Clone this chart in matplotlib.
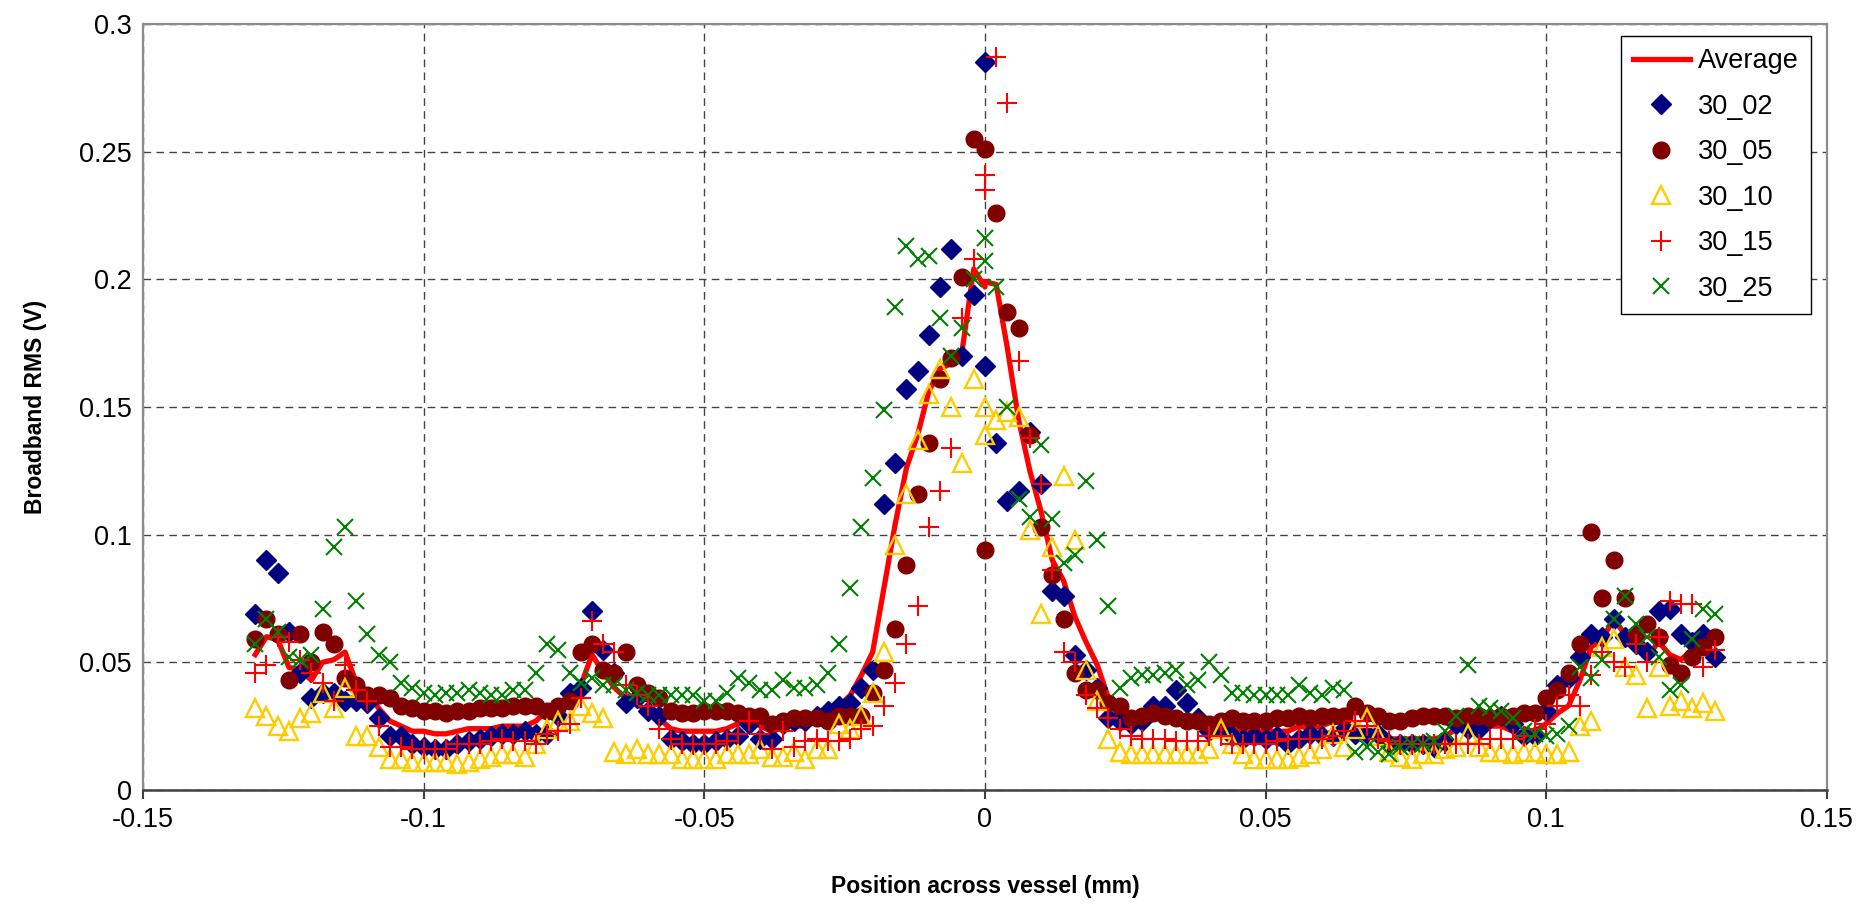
import matplotlib
matplotlib.use('Agg')
import matplotlib.pyplot as plt

plt.rcParams['font.family'] = ['Liberation Sans', 'DejaVu Sans']

# positions across the vessel (mm), left scan and right scan both end at 0
x_left = [-0.130, -0.128, -0.126, -0.124, -0.122, -0.120, -0.118, -0.116, -0.114, -0.112, -0.110,
          -0.108, -0.106, -0.104, -0.102, -0.100, -0.098, -0.096, -0.094, -0.092, -0.090, -0.088,
          -0.086, -0.084, -0.082, -0.080, -0.078, -0.076, -0.074, -0.072, -0.070, -0.068, -0.066,
          -0.064, -0.062, -0.060, -0.058, -0.056, -0.054, -0.052, -0.050, -0.048, -0.046, -0.044,
          -0.042, -0.040, -0.038, -0.036, -0.034, -0.032, -0.030, -0.028, -0.026, -0.024, -0.022,
          -0.020, -0.018, -0.016, -0.014, -0.012, -0.010, -0.008, -0.006, -0.004, -0.002, 0.000]
x_right = [0.000, 0.002, 0.004, 0.006, 0.008, 0.010, 0.012, 0.014, 0.016, 0.018, 0.020,
           0.022, 0.024, 0.026, 0.028, 0.030, 0.032, 0.034, 0.036, 0.038, 0.040, 0.042,
           0.044, 0.046, 0.048, 0.050, 0.052, 0.054, 0.056, 0.058, 0.060, 0.062, 0.064,
           0.066, 0.068, 0.070, 0.072, 0.074, 0.076, 0.078, 0.080, 0.082, 0.084, 0.086,
           0.088, 0.090, 0.092, 0.094, 0.096, 0.098, 0.100, 0.102, 0.104, 0.106, 0.108,
           0.110, 0.112, 0.114, 0.116, 0.118, 0.120, 0.122, 0.124, 0.126, 0.128, 0.130]

avg_left = [0.053, 0.060, 0.059, 0.048, 0.047, 0.043, 0.050, 0.051, 0.054, 0.042, 0.038,
            0.032, 0.027, 0.025, 0.023, 0.023, 0.022, 0.022, 0.023, 0.024, 0.024, 0.024,
            0.025, 0.025, 0.025, 0.027, 0.031, 0.033, 0.035, 0.041, 0.053, 0.046, 0.040,
            0.036, 0.034, 0.030, 0.028, 0.024, 0.023, 0.023, 0.023, 0.023, 0.024, 0.026,
            0.028, 0.025, 0.023, 0.026, 0.025, 0.025, 0.027, 0.028, 0.033, 0.037, 0.045,
            0.054, 0.079, 0.104, 0.126, 0.139, 0.156, 0.165, 0.167, 0.173, 0.204, 0.197]
avg_right = [0.199, 0.198, 0.173, 0.145, 0.125, 0.109, 0.090, 0.082, 0.068, 0.058, 0.049,
             0.036, 0.028, 0.027, 0.027, 0.028, 0.028, 0.029, 0.027, 0.026, 0.027, 0.028,
             0.025, 0.023, 0.023, 0.023, 0.023, 0.023, 0.025, 0.024, 0.025, 0.027, 0.026,
             0.024, 0.024, 0.021, 0.020, 0.020, 0.020, 0.020, 0.020, 0.021, 0.024, 0.028,
             0.024, 0.025, 0.025, 0.023, 0.022, 0.023, 0.026, 0.030, 0.033, 0.043, 0.056,
             0.059, 0.067, 0.061, 0.057, 0.052, 0.058, 0.053, 0.051, 0.055, 0.054, 0.054]

s02_left = [0.069, 0.090, 0.085, 0.062, 0.046, 0.036, 0.038, 0.038, 0.035, 0.035, 0.034,
            0.028, 0.021, 0.021, 0.018, 0.017, 0.016, 0.016, 0.018, 0.019, 0.020, 0.021,
            0.022, 0.022, 0.023, 0.022, 0.022, 0.029, 0.038, 0.040, 0.070, 0.055, 0.046,
            0.034, 0.036, 0.031, 0.029, 0.020, 0.019, 0.018, 0.018, 0.019, 0.020, 0.021,
            0.026, 0.020, 0.020, 0.026, 0.027, 0.027, 0.029, 0.031, 0.033, 0.034, 0.040,
            0.047, 0.112, 0.128, 0.157, 0.164, 0.178, 0.197, 0.212, 0.170, 0.194, 0.166]
s02_right = [0.285, 0.136, 0.113, 0.117, 0.140, 0.120, 0.078, 0.076, 0.053, 0.047, 0.040,
             0.028, 0.027, 0.026, 0.027, 0.033, 0.033, 0.039, 0.034, 0.028, 0.023, 0.024,
             0.021, 0.020, 0.021, 0.020, 0.021, 0.018, 0.020, 0.022, 0.021, 0.021, 0.024,
             0.022, 0.022, 0.022, 0.018, 0.018, 0.018, 0.018, 0.017, 0.019, 0.026, 0.024,
             0.024, 0.028, 0.029, 0.026, 0.021, 0.021, 0.031, 0.041, 0.044, 0.052, 0.061,
             0.060, 0.067, 0.060, 0.057, 0.054, 0.070, 0.071, 0.061, 0.058, 0.061, 0.052]

s05_left = [0.059, 0.067, 0.061, 0.043, 0.061, 0.050, 0.062, 0.057, 0.044, 0.041, 0.037,
            0.037, 0.036, 0.033, 0.032, 0.031, 0.031, 0.030, 0.031, 0.031, 0.032, 0.032,
            0.032, 0.033, 0.033, 0.033, 0.031, 0.033, 0.035, 0.054, 0.057, 0.047, 0.046,
            0.054, 0.041, 0.038, 0.036, 0.031, 0.030, 0.030, 0.031, 0.031, 0.031, 0.030,
            0.029, 0.029, 0.026, 0.027, 0.028, 0.028, 0.028, 0.027, 0.029, 0.029, 0.029,
            0.038, 0.047, 0.063, 0.088, 0.116, 0.136, 0.161, 0.169, 0.201, 0.255, 0.251]
s05_right = [0.094, 0.226, 0.187, 0.181, 0.139, 0.103, 0.084, 0.067, 0.046, 0.039, 0.039,
             0.034, 0.033, 0.028, 0.029, 0.030, 0.029, 0.028, 0.027, 0.027, 0.026, 0.027,
             0.028, 0.027, 0.027, 0.027, 0.028, 0.028, 0.029, 0.028, 0.029, 0.029, 0.029,
             0.033, 0.030, 0.029, 0.027, 0.027, 0.028, 0.029, 0.029, 0.029, 0.028, 0.029,
             0.029, 0.028, 0.029, 0.029, 0.030, 0.030, 0.036, 0.039, 0.046, 0.057, 0.101,
             0.075, 0.090, 0.075, 0.061, 0.065, 0.060, 0.049, 0.046, 0.052, 0.056, 0.060]

s10_left = [0.032, 0.029, 0.025, 0.023, 0.028, 0.030, 0.038, 0.032, 0.040, 0.021, 0.021,
            0.017, 0.012, 0.012, 0.011, 0.011, 0.011, 0.011, 0.010, 0.011, 0.012, 0.013,
            0.014, 0.014, 0.013, 0.018, 0.024, 0.027, 0.027, 0.033, 0.030, 0.028, 0.015,
            0.014, 0.016, 0.014, 0.014, 0.014, 0.012, 0.012, 0.012, 0.012, 0.014, 0.014,
            0.014, 0.016, 0.013, 0.013, 0.015, 0.012, 0.016, 0.016, 0.026, 0.024, 0.029,
            0.038, 0.054, 0.096, 0.116, 0.137, 0.155, 0.165, 0.150, 0.128, 0.161, 0.150]
s10_right = [0.139, 0.145, 0.148, 0.146, 0.102, 0.069, 0.095, 0.123, 0.098, 0.047, 0.035,
             0.020, 0.015, 0.014, 0.014, 0.014, 0.014, 0.014, 0.014, 0.014, 0.016, 0.024,
             0.018, 0.014, 0.012, 0.012, 0.012, 0.012, 0.013, 0.014, 0.016, 0.022, 0.017,
             0.024, 0.028, 0.021, 0.015, 0.013, 0.012, 0.014, 0.014, 0.016, 0.017, 0.022,
             0.017, 0.015, 0.015, 0.014, 0.015, 0.015, 0.014, 0.014, 0.015, 0.025, 0.027,
             0.056, 0.059, 0.048, 0.045, 0.032, 0.048, 0.033, 0.035, 0.032, 0.034, 0.031]

s15_left = [0.046, 0.049, 0.060, 0.058, 0.051, 0.046, 0.042, 0.035, 0.049, 0.039, 0.035,
            0.025, 0.017, 0.017, 0.016, 0.016, 0.016, 0.016, 0.018, 0.018, 0.018, 0.019,
            0.020, 0.019, 0.019, 0.018, 0.022, 0.023, 0.026, 0.036, 0.066, 0.057, 0.054,
            0.041, 0.037, 0.033, 0.024, 0.020, 0.018, 0.018, 0.018, 0.018, 0.019, 0.022,
            0.027, 0.022, 0.016, 0.023, 0.017, 0.019, 0.020, 0.019, 0.019, 0.020, 0.024,
            0.025, 0.033, 0.042, 0.057, 0.072, 0.103, 0.117, 0.134, 0.185, 0.208, 0.241]
s15_right = [0.235, 0.287, 0.269, 0.168, 0.138, 0.120, 0.086, 0.054, 0.050, 0.037, 0.032,
             0.028, 0.024, 0.021, 0.020, 0.020, 0.020, 0.019, 0.019, 0.019, 0.021, 0.021,
             0.018, 0.018, 0.018, 0.018, 0.019, 0.020, 0.020, 0.020, 0.020, 0.021, 0.023,
             0.027, 0.025, 0.020, 0.019, 0.018, 0.018, 0.018, 0.018, 0.018, 0.018, 0.018,
             0.018, 0.020, 0.020, 0.020, 0.021, 0.024, 0.026, 0.033, 0.037, 0.033, 0.045,
             0.054, 0.050, 0.048, 0.057, 0.050, 0.060, 0.074, 0.073, 0.073, 0.048, 0.055]

s25_left = [0.057, 0.067, 0.062, 0.052, 0.051, 0.053, 0.071, 0.095, 0.103, 0.074, 0.061,
            0.053, 0.050, 0.042, 0.040, 0.038, 0.037, 0.038, 0.038, 0.039, 0.038, 0.037,
            0.037, 0.039, 0.039, 0.046, 0.057, 0.055, 0.046, 0.042, 0.044, 0.041, 0.041,
            0.039, 0.038, 0.037, 0.037, 0.037, 0.037, 0.037, 0.035, 0.035, 0.038, 0.044,
            0.042, 0.039, 0.039, 0.043, 0.040, 0.040, 0.041, 0.046, 0.057, 0.079, 0.103,
            0.122, 0.149, 0.189, 0.213, 0.208, 0.209, 0.185, 0.170, 0.181, 0.200, 0.216]
s25_right = [0.207, 0.197, 0.150, 0.114, 0.107, 0.135, 0.106, 0.089, 0.092, 0.121, 0.098,
             0.072, 0.040, 0.044, 0.045, 0.045, 0.046, 0.047, 0.041, 0.043, 0.050, 0.045,
             0.038, 0.038, 0.037, 0.037, 0.037, 0.037, 0.041, 0.038, 0.037, 0.040, 0.039,
             0.015, 0.017, 0.015, 0.014, 0.017, 0.018, 0.018, 0.019, 0.023, 0.029, 0.049,
             0.033, 0.032, 0.031, 0.028, 0.023, 0.022, 0.021, 0.022, 0.025, 0.048, 0.044,
             0.051, 0.067, 0.076, 0.065, 0.060, 0.052, 0.039, 0.041, 0.059, 0.071, 0.069]

x_ticks = [-0.15, -0.1, -0.05, 0, 0.05, 0.1, 0.15]
x_tick_labels = ['-0.15', '-0.1', '-0.05', '0', '0.05', '0.1', '0.15']
y_ticks = [0, 0.05, 0.1, 0.15, 0.2, 0.25, 0.3]
y_tick_labels = ['0', '0.05', '0.1', '0.15', '0.2', '0.25', '0.3']


def main():
    fig = plt.figure(figsize=(18.64, 9.08), dpi=100)
    ax = fig.add_axes([0.0767, 0.130, 0.9034, 0.8436])

    x_all = x_left + x_right
    ax.plot(x_all, avg_left + avg_right, color='#ff0000', lw=3.8, label='Average', zorder=2,
            solid_joinstyle='round')
    ax.plot(x_all, s02_left + s02_right, 'D', color='#000080', ms=10.5, mec='#000080',
            ls='none', label='30_02', zorder=3)
    ax.plot(x_all, s05_left + s05_right, 'o', color='#800000', ms=12, mec='#800000',
            ls='none', label='30_05', zorder=3)
    ax.plot(x_all, s10_left + s10_right, '^', mfc='none', mec='#ffcc00', ms=12.5, mew=1.7,
            ls='none', label='30_10', zorder=3)
    ax.plot(x_all, s15_left + s15_right, '+', color='#ff0000', ms=14, mew=1.5,
            ls='none', label='30_15', zorder=3)
    ax.plot(x_all, s25_left + s25_right, 'x', color='#008000', ms=12, mew=1.5,
            ls='none', label='30_25', zorder=3)

    ax.set_xlim(-0.15, 0.15)
    ax.set_ylim(0, 0.3)
    ax.set_xticks(x_ticks)
    ax.set_xticklabels(x_tick_labels)
    ax.set_yticks(y_ticks)
    ax.set_yticklabels(y_tick_labels)
    ax.tick_params(axis='x', direction='out', length=6.5, width=1.5, color='#404040',
                   labelsize=19.5, pad=6)
    ax.tick_params(axis='y', length=0, labelsize=19.5, pad=8)

    ax.grid(True, color='#444444', lw=1.0, dashes=(5.5, 3.8))
    ax.set_axisbelow(True)

    for side in ['left', 'top', 'right']:
        ax.spines[side].set_color('#8c8c8c')
        ax.spines[side].set_linewidth(1.6)
    ax.spines['bottom'].set_color('#404040')
    ax.spines['bottom'].set_linewidth(1.8)

    ax.set_xlabel('Position across vessel (mm)', fontsize=16.5, fontweight='bold', labelpad=30)
    ax.set_ylabel('Broadband RMS (V)', fontsize=16.5, fontweight='bold', labelpad=23)

    leg = ax.legend(loc='upper right', bbox_to_anchor=(0.9905, 0.9843), borderaxespad=0,
                    fontsize=19.5, numpoints=1, fancybox=False, framealpha=1,
                    edgecolor='#000000', handlelength=2.1, handletextpad=0.3,
                    labelspacing=0.72, borderpad=0.45)
    leg.get_frame().set_linewidth(1.0)

    fig.savefig('out.png', dpi=100)


if __name__ == '__main__':
    main()
